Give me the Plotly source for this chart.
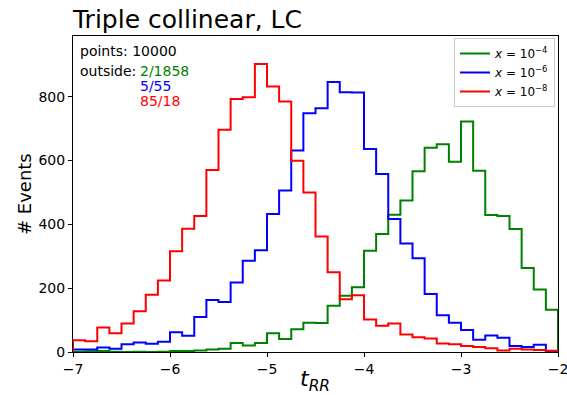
import numpy as np
import plotly.graph_objects as go

# ---------------- data ----------------
bin_lo, bin_hi, n_bins = -7.0, -2.0, 40

counts_x4 = [1, 2, 3, 1, 0, 1, 0, 1, 3, 3,
             5, 8, 10, 28, 20, 28, 59, 41, 71, 92,
             91, 145, 176, 203, 317, 370, 430, 475, 566, 640,
             651, 596, 722, 568, 429, 426, 385, 263, 196, 132]
counts_x6 = [8, 8, 14, 10, 24, 30, 26, 32, 62, 51,
             110, 163, 157, 218, 286, 319, 432, 506, 631, 748,
             764, 846, 814, 813, 636, 558, 417, 340, 294, 182,
             115, 92, 69, 38, 52, 45, 19, 16, 23, 2]
counts_x8 = [37, 34, 77, 59, 89, 128, 179, 224, 316, 386,
             426, 570, 696, 793, 798, 902, 832, 785, 599, 500,
             362, 250, 165, 178, 102, 82, 89, 55, 46, 42,
             27, 24, 19, 16, 12, 5, 10, 8, 6, 4]

series_names = ["<i>x</i> = 10<sup>−4</sup>", "<i>x</i> = 10<sup>−6</sup>", "<i>x</i> = 10<sup>−8</sup>"]
series_colors = ["#008000", "#0000ff", "#ff0000"]
outside_texts = ["2/1858", "5/55", "85/18"]
n_points = 10000

x_ticks = [-7, -6, -5, -4, -3, -2]
y_ticks = [0, 200, 400, 600, 800]

# ---------------- layout helpers ----------------
W, H = 567, 395
L, R, T, B = 73, 558, 36, 352


def px(x):
    return (x - L) / (R - L)


def py(y):
    return (B - y) / (B - T)


edges = np.linspace(bin_lo, bin_hi, n_bins + 1)


def step_xy(counts):
    xs = [edges[0]] + list(edges[:-1]) + [edges[-1], edges[-1]]
    ys = [0] + list(counts) + [counts[-1], 0]
    return xs, ys


fig = go.Figure()
for counts, name, col in zip([counts_x4, counts_x6, counts_x8], series_names, series_colors):
    xs, ys = step_xy(counts)
    fig.add_trace(go.Scatter(x=xs, y=ys, mode="lines", line=dict(color=col, width=2, shape="hv"),
                             name=name))

font_family = "DejaVu Sans"

annotations = [
    dict(text=f"points: {n_points}", x=px(78), y=py(51), xanchor="left", yanchor="middle",
         font=dict(size=14, color="black")),
    dict(text="outside:", x=px(78), y=py(71), xanchor="left", yanchor="middle",
         font=dict(size=14, color="black")),
]
for i, (t, c) in enumerate(zip(outside_texts, series_colors)):
    annotations.append(dict(text=t, x=px(137.5), y=py(71 + 15 * i), xanchor="left", yanchor="middle",
                            font=dict(size=14, color=c)))
annotations.append(dict(text="# Events", x=px(24), y=py(194), xanchor="center", yanchor="middle",
                        textangle=-90, font=dict(size=18, color="black")))
annotations.append(dict(text="<i>t</i><sub><i>RR</i></sub>", x=px(315), y=py(397), xanchor="center",
                        yanchor="bottom", font=dict(size=22, color="black")))
for a in annotations:
    a.update(xref="paper", yref="paper", showarrow=False)

fig.update_layout(
    width=W, height=H,
    margin=dict(l=L, r=W - R, t=T, b=H - B),
    paper_bgcolor="white", plot_bgcolor="white",
    font=dict(family=font_family, color="black"),
    title=dict(text="Triple collinear, LC", x=0, xref="paper", xanchor="left",
               y=1 - 19 / H, yanchor="middle", font=dict(size=25, color="black")),
    xaxis=dict(range=[bin_lo, bin_hi], tickvals=x_ticks, showgrid=False, zeroline=False,
               showline=True, linecolor="black", linewidth=1, mirror=True,
               ticks="outside", ticklen=4, tickcolor="black", tickfont=dict(size=14),
               ticklabeloverflow="allow", automargin=False),
    yaxis=dict(range=[0, 990], tickvals=y_ticks, showgrid=False, zeroline=False,
               showline=True, linecolor="black", linewidth=1, mirror=True,
               ticks="outside", ticklen=4, tickcolor="black", tickfont=dict(size=14),
               automargin=False),
    legend=dict(x=px(555), y=py(38), xanchor="right", yanchor="top", bgcolor="white",
                bordercolor="#cccccc", borderwidth=1, font=dict(size=12), itemwidth=30,
                tracegroupgap=0),
    annotations=annotations,
    showlegend=True,
)

fig.write_html("out.html")
